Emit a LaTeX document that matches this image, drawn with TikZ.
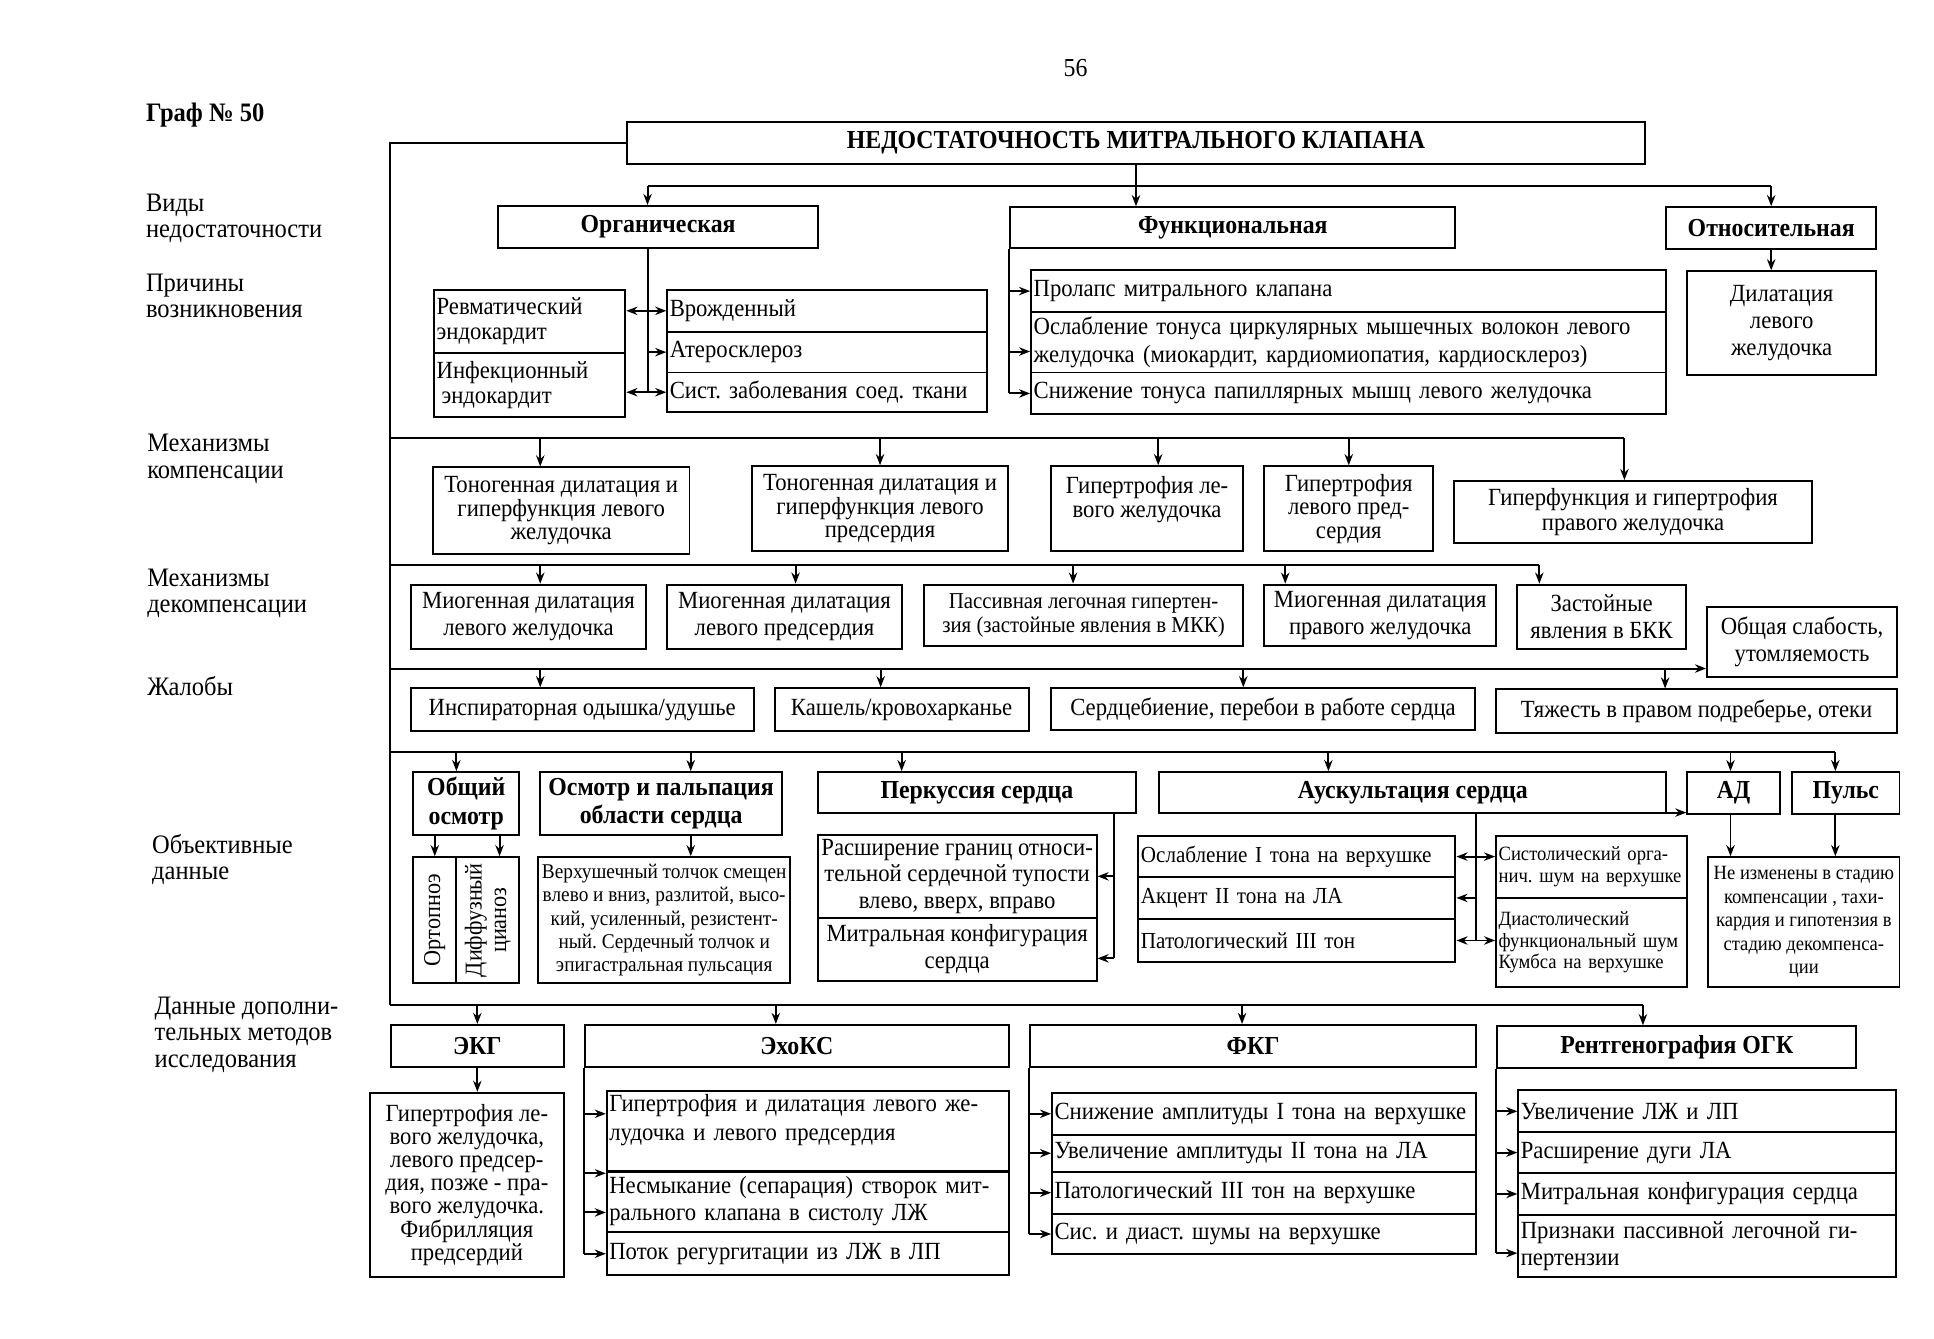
\documentclass[tikz,border=0pt]{standalone}
\usepackage{fontspec}
\setmainfont[FakeStretch=0.92]{Liberation Serif}
\usetikzlibrary{arrows.meta}

\begin{document}
\frenchspacing
\begin{tikzpicture}[x=0.5pt, y=-0.5pt, >={Stealth[length=4.5pt,width=3.4pt]},
  box/.style={draw, line width=0.8pt, inner sep=1.5pt, align=center, font=\fontsize{10}{10.3}\selectfont},
  head/.style={box, font=\bfseries\fontsize{10.5}{11.5}\selectfont},
  lbox/.style={box, align=left, inner xsep=1pt},
  small/.style={box, font=\fontsize{8.2}{9.3}\selectfont},
  lsmall/.style={small, align=left, inner xsep=1pt},
  lab/.style={anchor=west, align=left, inner sep=0pt, font=\fontsize{10.8}{10.8}\selectfont},
  wh/.style 2 args={minimum width=#1pt, minimum height=#2pt},
  tw/.style 2 args={text width=#1pt, minimum height=#2pt},
  wire/.style={line width=0.8pt},
  arr/.style={wire, ->},
  darr/.style={wire, <->}]

\useasboundingbox (0,0) rectangle (1568,1085);

\node[font=\fontsize{10.5}{12}\selectfont] (page) at (872,55) {56};
\node[lab, font=\bfseries\fontsize{10.8}{12}\selectfont] (graf) at (118,93) {Граф № 50};

\node[lab] (l1) at (118,177) {Виды\\недостаточности};
\node[lab] (l2) at (118,240) {Причины\\возникновения};
\node[lab] (l3) at (119,372) {Механизмы\\компенсации};
\node[lab] (l4) at (119,481) {Механизмы\\декомпенсации};
\node[lab] (l5) at (119,556) {Жалобы};
\node[lab] (l6) at (123,697) {Объективные\\данные};
\node[lab] (l7) at (125,839) {Данные дополни-\\тельных методов\\исследования};

\node[head, wh={413}{17}] (main) at (921,116) {НЕДОСТАТОЧНОСТЬ МИТРАЛЬНОГО КЛАПАНА};
\node[head, wh={129.5}{17}] (org) at (533.5,184) {Органическая};
\node[head, wh={180.5}{16.5}] (func) at (999.5,184.5) {Функциональная};
\node[head, wh={85}{17}] (rel) at (1436,185) {Относительная};

\coordinate (t0) at (921,151);
\draw[arr] (main.south) -- (main.south |- func.north);
\draw[wire] ([xshift=-4.25pt]org.north |- t0) -- (rel.north |- t0);
\draw[arr] ([xshift=-4.25pt]org.north |- t0) -- ([xshift=-4.25pt]org.north);
\draw[arr] (rel.north |- t0) -- (rel.north);

\node[lbox, tw={75.5}{25.5}] (rheum) at (429.5,260.5) {Ревматический\\эндокардит};
\node[lbox, tw={75.5}{26}] (infec) at (429.5,312) {Инфекционный\\\hspace{2pt}эндокардит};
\node[lbox, tw={127.5}{17}] (cong) at (670.5,252) {Врожденный};
\node[lbox, tw={127.5}{16.5}] (ather) at (670.5,285.5) {Атеросклероз};
\node[lbox, tw={127.5}{16}] (syst) at (670.5,318) {Сист. заболевания соед. ткани};

\draw[wire] ([xshift=-4.25pt]org.south) -- ([xshift=-4.25pt]org.south |- syst);
\draw[darr] (rheum.east |- cong) -- (cong.west);
\draw[arr] ([xshift=-4.25pt]org.south |- ather) -- (ather.west);
\draw[darr] (infec.east |- syst) -- (syst.west);

\node[lbox, tw={255.5}{17}] (prol) at (1093.5,236) {Пролапс митрального клапана};
\node[lbox, tw={255.5}{24.5}, font=\fontsize{10}{11.5}\selectfont] (tonus) at (1093.5,277.5) {Ослабление тонуса циркулярных мышечных волокон левого\\желудочка (миокардит, кардиомиопатия, кардиосклероз)};
\node[lbox, tw={255.5}{17}] (pap) at (1093.5,319) {Снижение тонуса папиллярных мышц левого желудочка};

\draw[wire] (func.south west) -- (func.south west |- pap);
\draw[arr] (func.south west |- prol) -- (prol.west);
\draw[arr] ([yshift=-3.75pt]func.south west |- tonus) -- ([yshift=-3.75pt]tonus.west);
\draw[arr] (func.south west |- pap) -- (pap.west);

\node[box, wh={76.5}{42}, font=\fontsize{10}{11}\selectfont] (dil) at (1444.5,262) {Дилатация\\левого\\желудочка};
\draw[arr] (rel.south) -- (rel.south |- dil.north);

\coordinate (sp) at (316,815);
\coordinate (b1) at (316,355);
\coordinate (b2) at (316,458);
\coordinate (b3) at (316,542);
\coordinate (b4) at (316,610);
\draw[wire] (main.west) -| (sp);

\node[box, wh={104}{35}, font=\fontsize{10}{9.6}\selectfont] (comp1) at (455,414) {Тоногенная дилатация и\\гиперфункция левого\\желудочка};
\node[box, wh={103.5}{34.5}, font=\fontsize{10}{9.6}\selectfont] (comp2) at (713.5,412.5) {Тоногенная дилатация и\\гиперфункция левого\\предсердия};
\node[box, wh={78}{34.5}, font=\fontsize{10}{9.6}\selectfont] (comp3) at (930,412.5) {Гипертрофия ле-\\вого желудочка\\\mbox{}};
\node[box, wh={68.5}{34.5}, font=\fontsize{10}{9.6}\selectfont] (comp4) at (1093.5,412.5) {Гипертрофия\\левого пред-\\сердия};
\node[box, wh={145}{25}] (comp5) at (1324,415) {Гиперфункция и гипертрофия\\правого желудочка};

\draw[wire] (b1) -- ([xshift=-3.5pt]comp5.north |- b1);
\draw[arr] ([xshift=-8.5pt]comp1.north |- b1) -- ([xshift=-8.5pt]comp1.north);
\draw[arr] (comp2.north |- b1) -- (comp2.north);
\draw[arr] ([xshift=4.5pt]comp3.north |- b1) -- ([xshift=4.5pt]comp3.north);
\draw[arr] (comp4.north |- b1) -- (comp4.north);
\draw[arr] ([xshift=-3.5pt]comp5.north |- b1) -- ([xshift=-3.5pt]comp5.north);

\node[box, wh={95.5}{26}, font=\fontsize{10}{11}\selectfont] (dec1) at (428.5,500) {Миогенная дилатация\\левого желудочка};
\node[box, wh={95}{26}, font=\fontsize{10}{11}\selectfont] (dec2) at (636,500) {Миогенная дилатация\\левого предсердия};
\node[box, wh={129.5}{25}, font=\fontsize{9.2}{10}\selectfont] (dec3) at (878.5,499) {Пассивная легочная гипертен-\\зия (застойные явления в МКК)};
\node[box, wh={94}{25}, font=\fontsize{10}{11}\selectfont] (dec4) at (1119,499) {Миогенная дилатация\\правого желудочка};
\node[box, wh={68.5}{26}, font=\fontsize{10}{11}\selectfont] (dec5) at (1298.5,500) {Застойные\\явления в БКК};
\node[box, wh={77}{28.5}, font=\fontsize{10}{11}\selectfont] (fatigue) at (1461,520.5) {Общая слабость,\\утомляемость};

\draw[wire] (b2) -- ([xshift=-25.25pt]dec5.north |- b2);
\draw[arr] ([xshift=4.75pt]dec1.north |- b2) -- ([xshift=4.75pt]dec1.north);
\draw[arr] ([xshift=4.5pt]dec2.north |- b2) -- ([xshift=4.5pt]dec2.north);
\draw[arr] ([xshift=-4.25pt]dec3.north |- b2) -- ([xshift=-4.25pt]dec3.north);
\draw[arr] ([xshift=-38.5pt]dec4.north |- b2) -- ([xshift=-38.5pt]dec4.north);
\draw[arr] ([xshift=-25.25pt]dec5.north |- b2) -- ([xshift=-25.25pt]dec5.north);

\node[box, wh={139}{17.5}] (cmp1) at (472,575.5) {Инспираторная одышка/удушье};
\node[box, wh={103}{17.5}] (cmp2) at (731,575.5) {Кашель/кровохарканье};
\node[box, wh={172}{17}] (cmp3) at (1024,575) {Сердцебиение, перебои в работе сердца};
\node[box, wh={162.5}{17.5}] (cmp4) at (1375.5,576.5) {Тяжесть в правом подреберье, отеки};

\draw[arr] (b3) -- (b3 -| fatigue.west);
\draw[arr] ([xshift=-17pt]cmp1.north |- b3) -- ([xshift=-17pt]cmp1.north);
\draw[arr] ([xshift=-8.5pt]cmp2.north |- b3) -- ([xshift=-8.5pt]cmp2.north);
\draw[arr] ([xshift=-8pt]cmp3.north |- b3) -- ([xshift=-8pt]cmp3.north);
\draw[arr] ([xshift=-12.75pt]cmp4.north |- b3) -- ([xshift=-12.75pt]cmp4.north);

\node[head, wh={43}{25.5}] (gen) at (378,651.5) {Общий\\осмотр};
\node[box, rotate=90, wh={51}{17.5}, font=\fontsize{9.8}{10}\selectfont] (orth) at (352.5,746) {Ортопноэ};
\node[box, rotate=90, wh={51}{25.5}, font=\fontsize{9.8}{10}\selectfont] (diff) at (395.5,746) {Диффузный\\цианоз};
\node[head, wh={98}{25.5}] (palp) at (536,651.5) {Осмотр и пальпация\\области сердца};
\node[small, wh={100.5}{51}, font=\fontsize{8.5}{9.5}\selectfont] (apex) at (538.5,746) {Верхушечный толчок смещен\\влево и вниз, разлитой, высо-\\кий, усиленный, резистент-\\ный. Сердечный толчок и\\эпигастральная пульсация};
\node[head, wh={129}{16.5}] (perc) at (792,642.5) {Перкуссия сердца};
\node[box, wh={113}{33.5}, font=\fontsize{10}{10.8}\selectfont] (perc1) at (776,710.5) {Расширение границ относи-\\тельной сердечной тупости\\влево, вверх, вправо};
\node[box, wh={113}{25.5}, font=\fontsize{10}{10.8}\selectfont] (perc2) at (776,769.5) {Митральная конфигурация\\сердца};
\node[head, wh={205.5}{16.5}] (aus) at (1145.5,642.5) {Аускультация сердца};
\node[head, wh={37.5}{17}] (ad) at (1405.5,643) {АД};
\node[head, wh={43.5}{17}] (puls) at (1496.5,643) {Пульс};
\node[lbox, tw={126.5}{16.5}, font=\fontsize{9.3}{10}\selectfont] (aus1) at (1051.5,694.5) {Ослабление I тона на верхушке};
\node[lbox, tw={126.5}{17}, font=\fontsize{9.3}{10}\selectfont] (aus2) at (1051.5,728) {Акцент II тона на ЛА};
\node[lbox, tw={126.5}{17.5}, font=\fontsize{9.3}{10}\selectfont] (aus3) at (1051.5,762.5) {Патологический III тон};
\node[lsmall, tw={75.5}{25}, font=\fontsize{8.2}{9}\selectfont] (sys) at (1290.5,703) {Систолический орга-\\нич. шум на верхушке};
\node[lsmall, tw={75.5}{36}, font=\fontsize{8.2}{8.8}\selectfont] (dia) at (1290.5,764) {Диастолический\\функциональный шум\\Кумбса на верхушке\\[2pt]};
\node[small, wh={77.5}{52.5}, font=\fontsize{8.2}{9.5}\selectfont] (bp) at (1462.5,747.5) {Не изменены в стадию\\компенсации , тахи-\\кардия и гипотензия в\\стадию декомпенса-\\ции};

\draw[wire] (b4) -- ([xshift=-4.25pt]puls.north |- b4);
\draw[arr] ([xshift=-4pt]gen.north |- b4) -- ([xshift=-4pt]gen.north);
\draw[arr] ([xshift=12pt]palp.north |- b4) -- ([xshift=12pt]palp.north);
\draw[arr] ([xshift=-30.5pt]perc.north |- b4) -- ([xshift=-30.5pt]perc.north);
\draw[arr] ([xshift=-34.25pt]aus.north |- b4) -- ([xshift=-34.25pt]aus.north);
\draw[arr] ([xshift=-1.25pt]ad.north |- b4) -- ([xshift=-1.25pt]ad.north);
\draw[arr] ([xshift=-4.25pt]puls.north |- b4) -- ([xshift=-4.25pt]puls.north);

\draw[arr] (orth.east |- gen.south) -- (orth.east);
\draw[arr] ([xshift=4.75pt]diff.east |- gen.south) -- ([xshift=4.75pt]diff.east);
\draw[arr] ([xshift=12pt]palp.south) -- ([xshift=12pt]palp.south |- apex.north);

\draw[wire] ([xshift=55.5pt]perc.south) -- ([xshift=55.5pt,yshift=-3.75pt]perc.south |- perc2.east);
\draw[arr] ([xshift=55.5pt]perc.south |- perc1.east) -- (perc1.east);
\draw[arr] ([xshift=55.5pt,yshift=-3.75pt]perc.south |- perc2.east) -- ([yshift=-3.75pt]perc2.east);

\draw[wire] ([xshift=25.75pt]aus.south) -- ([xshift=25.75pt]aus.south |- aus3.east);
\draw[darr] (aus1.east) -- (aus1.east -| sys.west);
\draw[arr] ([xshift=25.75pt]aus.south |- aus2.east) -- (aus2.east);
\draw[darr] (aus3.east) -- (aus3.east -| dia.west);
\draw[arr] ([yshift=0.5pt]aus.south east) -- ([yshift=0.5pt]aus.south east -| ad.west);
\draw[arr] ([xshift=-1.25pt]ad.south) -- ([xshift=-1.25pt]ad.south |- bp.north);
\draw[arr] ([xshift=-4.25pt]puls.south) -- ([xshift=-4.25pt]puls.south |- bp.north);

\node[head, wh={70}{17}] (ekg) at (387,848) {ЭКГ};
\node[box, wh={78.5}{74.5}, font=\fontsize{10}{9.4}\selectfont] (ekgt) at (378.5,960.5) {Гипертрофия ле-\\вого желудочка,\\левого предсер-\\дия, позже - пра-\\вого желудочка.\\Фибрилляция\\предсердий};
\node[head, wh={172}{17}] (echo) at (646,848) {ЭхоКС};
\node[lbox, tw={161}{31.5}, font=\fontsize{10}{11.5}\selectfont] (echo1) at (655,917.5) {Гипертрофия и дилатация левого же-\\лудочка и левого предсердия\\\mbox{}};
\node[lbox, tw={161}{25}, font=\fontsize{10}{11}\selectfont] (echo2) at (655,974) {Несмыкание (сепарация) створок мит-\\рального клапана в систолу ЛЖ};
\node[lbox, tw={161}{17.5}] (echo3) at (655,1016.5) {Поток регургитации из ЛЖ в ЛП};
\node[head, wh={181}{17}] (fkg) at (1016,848) {ФКГ};
\node[lbox, tw={170}{17}] (fkg1) at (1025,903) {Снижение амплитуды I тона на верхушке};
\node[lbox, tw={170}{15}] (fkg2) at (1025,935) {Увеличение амплитуды II тона на ЛА};
\node[lbox, tw={170}{17}] (fkg3) at (1025,967) {Патологический III тон на верхушке};
\node[lbox, tw={170}{16.5}] (fkg4) at (1025,1000.5) {Сис. и диаст. шумы на верхушке};
\node[head, wh={145.5}{17}] (rg) at (1359.5,849) {Рентгенография ОГК};
\node[lbox, tw={151}{17}] (rg1) at (1384,901) {Увеличение ЛЖ и ЛП};
\node[lbox, tw={151}{16.5}] (rg2) at (1384,934.5) {Расширение дуги ЛА};
\node[lbox, tw={151}{17}] (rg3) at (1384,968) {Митральная конфигурация сердца};
\node[lbox, tw={151}{25}, font=\fontsize{10}{11}\selectfont] (rg4) at (1384,1010) {Признаки пассивной легочной ги-\\пертензии};

\draw[wire] (sp) -- ([xshift=-13.75pt]rg.north |- sp);
\draw[arr] (ekg.north |- sp) -- (ekg.north);
\draw[arr] ([xshift=-8.5pt]echo.north |- sp) -- ([xshift=-8.5pt]echo.north);
\draw[arr] ([xshift=-4.5pt]fkg.north |- sp) -- ([xshift=-4.5pt]fkg.north);
\draw[arr] ([xshift=-13.75pt]rg.north |- sp) -- ([xshift=-13.75pt]rg.north);
\draw[arr] (ekg.south) -- (ekg.south |- ekgt.north);

\draw[wire] (echo.south west) -- (echo.south west |- echo3.west);
\draw[arr] ([yshift=7.25pt]echo.south west |- echo1.west) -- ([yshift=7.25pt]echo1.west);
\draw[arr] (echo.south west |- echo1.south west) -- (echo1.south west);
\draw[arr] ([yshift=-4.5pt]echo.south west |- echo2.west) -- ([yshift=-4.5pt]echo2.west);
\draw[arr] (echo.south west |- echo3.west) -- (echo3.west);

\draw[wire] (fkg.south west) -- (fkg.south west |- fkg4.west);
\draw[arr] (fkg.south west |- fkg1.west) -- (fkg1.west);
\draw[arr] (fkg.south west |- fkg2.west) -- (fkg2.west);
\draw[arr] (fkg.south west |- fkg3.west) -- (fkg3.west);
\draw[arr] (fkg.south west |- fkg4.west) -- (fkg4.west);

\draw[wire] (rg.south west) -- ([yshift=-3pt]rg.south west |- rg4.west);
\draw[arr] (rg.south west |- rg1.west) -- (rg1.west);
\draw[arr] (rg.south west |- rg2.west) -- (rg2.west);
\draw[arr] (rg.south west |- rg3.west) -- (rg3.west);
\draw[arr] ([yshift=-3pt]rg.south west |- rg4.west) -- ([yshift=-3pt]rg4.west);

\end{tikzpicture}
\end{document}
